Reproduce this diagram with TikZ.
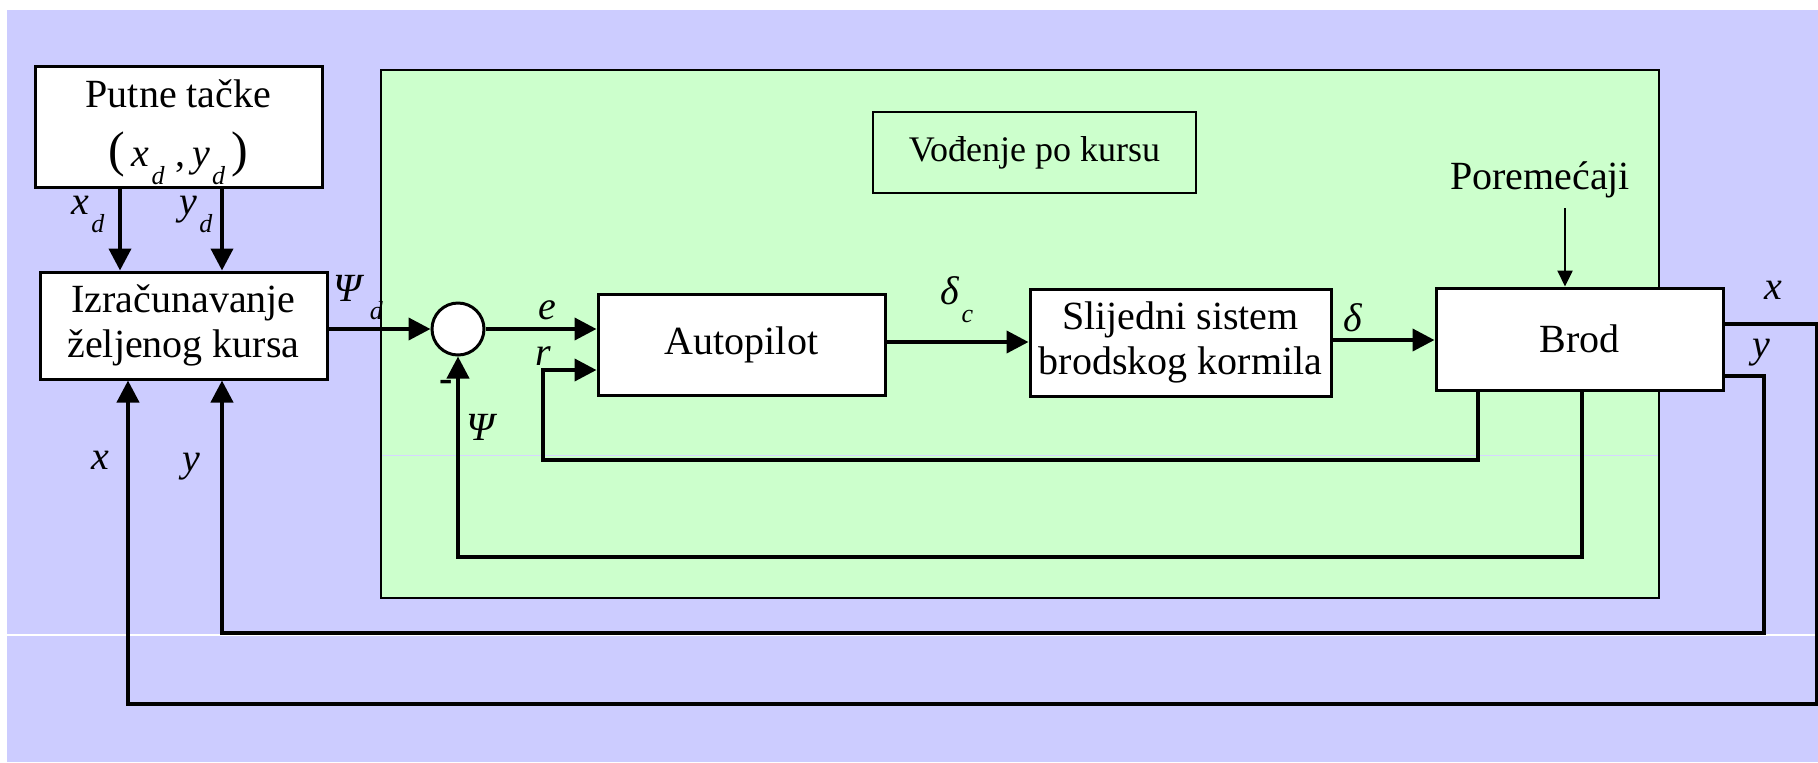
\documentclass[tikz,border=0pt]{standalone}
\usepackage{fontspec}
\setmainfont{Liberation Serif}
\usetikzlibrary{arrows.meta}
\definecolor{lav}{HTML}{CCCCFF}
\definecolor{mint}{HTML}{CCFFCC}
% italic subscript, lowered below the baseline
\newcommand\sbs[1]{\raisebox{-0.45em}{\fontsize{13}{13}\selectfont\itshape\kern0.08em #1}}
\newcommand\bigpar[1]{{\fontsize{25}{25}\selectfont #1}}

\begin{document}
\begin{tikzpicture}[x=0.5pt,y=-0.5pt,
  blk/.style={draw, fill=white, line width=1.5pt, align=center, inner sep=0pt,
              font=\fontsize{20}{22.5}\selectfont},
  arr/.style={line width=2pt, line join=miter, -{Triangle[length=11pt,width=11pt]}},
  thinarr/.style={line width=1.2pt, -{Triangle[length=8pt,width=7.5pt]}},
  lab/.style={font=\fontsize{20}{22}\selectfont\itshape, inner sep=0pt}]

\useasboundingbox (0,0) rectangle (1818,762);
\fill[white] (0,0) rectangle (1818,762);
\fill[lav] (7,10) rectangle (1818,762);
\draw[white, line width=0.6pt] (7,635) -- (1818,635);

% course-keeping subsystem
\draw[fill=mint, line width=1.2pt] (381,70) rectangle (1659,598);
\draw[lav!80!white, line width=0.5pt] (382,455) -- (1658,455);

% blocks
\node[blk, minimum width=143.5pt, minimum height=60.5pt] (putne) at (178.5,126.5)
  {\rule{0pt}{20pt}Putne tačke\\[7pt]\bigpar{(}\,{\itshape x}\sbs{d}\;,\,{\itshape y}\sbs{d}\,\bigpar{)}};
\node[blk, minimum width=143.5pt, minimum height=53.5pt] (izr) at (183.5,325.5)
  {Izračunavanje\\željenog kursa};
\node[draw, line width=1.2pt, inner sep=0pt, minimum width=161.5pt, minimum height=40.5pt,
      font=\fontsize{18}{20}\selectfont] (vod) at (1034.5,152.5) {Vođenje po kursu};
\node[circle, draw, fill=white, line width=1.5pt, minimum size=26pt, inner sep=0pt] (sum) at (458,329) {};
\node[blk, minimum width=143.5pt, minimum height=50.5pt] (auto) at (741.5,344.5) {Autopilot};
\node[blk, minimum width=150.5pt, minimum height=53.5pt] (slij) at (1180.5,342.5)
  {Slijedni sistem\\brodskog kormila};
\node[blk, minimum width=143.5pt, minimum height=51pt] (brod) at (1579.5,339) {Brod};
\node[font=\fontsize{20}{22}\selectfont, inner sep=0pt] (por) at (1540,180) {Poremećaji};

% routing points
\coordinate (xa) at (120,0);
\coordinate (ya) at (222,0);
\coordinate (xb) at (128,704);
\coordinate (yb) at (222,633);
\coordinate (xr) at (1817,324);
\coordinate (yr) at (1764,376);
\coordinate (rb) at (1478,460);
\coordinate (rl) at (543,370);
\coordinate (pb) at (1582,557);
\coordinate (dc) at (0,342);
\coordinate (dl) at (0,340);
\coordinate (pin) at (1565,208);

% connectors
\draw[arr] (putne.south -| xa) -- (izr.north -| xa);
\draw[arr] (putne.south -| ya) -- (izr.north -| ya);
\draw[arr] (izr.east |- sum) -- (sum.west);
\draw[arr] (sum.east) -- (auto.west |- sum);
\draw[arr] (auto.east |- dc) -- (slij.west |- dc);
\draw[arr] (slij.east |- dl) -- (brod.west |- dl);
\draw[thinarr] (pin) -- (brod.north -| pin);
\draw[arr] (brod.south -| rb) -- (rb) -| (rl) -- (auto.west |- rl);
\draw[arr] (brod.south -| pb) |- (sum |- pb) -- (sum.south);
\draw[arr] (brod.east |- xr) -- (xr) |- (xb) -- (izr.south -| xb);
\draw[arr] (brod.east |- yr) -- (yr) |- (yb) -- (izr.south -| yb);

% signal labels
\node[lab] (lxd) at (88,214) {x\sbs{d}};
\node[lab] (lyd) at (196,214) {y\sbs{d}};
\node[lab] (lpd) at (358,298) {Ψ\,\sbs{d}};
\node[lab] (le) at (547,310) {e};
\node[lab] (lr) at (543,356) {r};
\node[font=\fontsize{20}{22}\selectfont\bfseries, inner sep=0pt] (lm) at (446,386) {-};
\node[lab] (lpsi) at (481,427) {Ψ};
\node[lab] (ldc) at (957,300) {δ\sbs{c}};
\node[lab] (ld) at (1353,318) {δ};
\node[lab] (lxr) at (1773,290) {x};
\node[lab] (lyr) at (1761,353) {y};
\node[lab] (lxl) at (100,460) {x};
\node[lab] (lyl) at (191,467) {y};
\end{tikzpicture}
\end{document}
